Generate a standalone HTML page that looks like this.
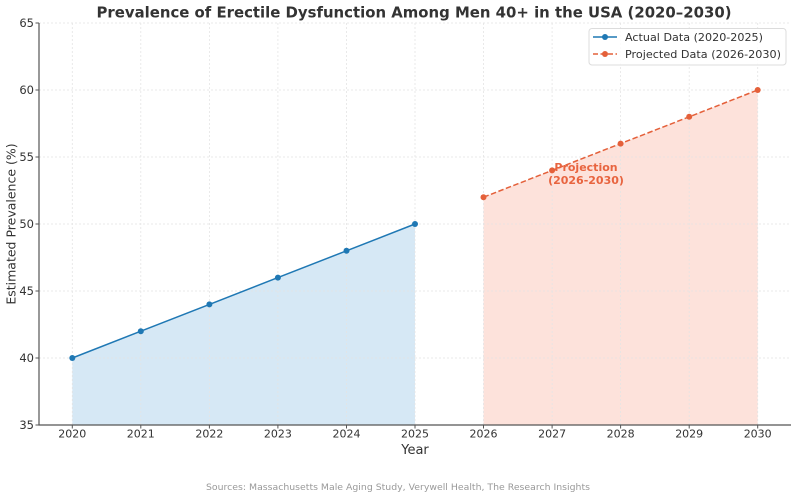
<!DOCTYPE html>
<html>
<head>
<meta charset="utf-8">
<style>
html,body{margin:0;padding:0;background:#fff;}
svg{display:block;}
text{font-family:"DejaVu Sans","Liberation Sans",sans-serif;}
</style>
</head>
<body>
<svg width="797" height="496" viewBox="0 0 797 496" xmlns="http://www.w3.org/2000/svg">
<rect width="797" height="496" fill="#fff"/>
<!-- fills -->
<polygon points="72.3,358 140.8,331.2 209.4,304.4 277.9,277.6 346.5,250.8 415,224 415,425 72.3,425" fill="#d6e8f5"/>
<polygon points="483.5,197.2 552.1,170.4 620.6,143.6 689.2,116.8 757.7,90 757.7,425 483.5,425" fill="#fde2db"/>
<!-- grid -->
<g stroke="#e4e4e4" stroke-width="0.8" stroke-dasharray="2,2" fill="none">
<line x1="72.3" y1="23" x2="72.3" y2="425"/>
<line x1="140.8" y1="23" x2="140.8" y2="425"/>
<line x1="209.4" y1="23" x2="209.4" y2="425"/>
<line x1="277.9" y1="23" x2="277.9" y2="425"/>
<line x1="346.5" y1="23" x2="346.5" y2="425"/>
<line x1="415" y1="23" x2="415" y2="425"/>
<line x1="483.5" y1="23" x2="483.5" y2="425"/>
<line x1="552.1" y1="23" x2="552.1" y2="425"/>
<line x1="620.6" y1="23" x2="620.6" y2="425"/>
<line x1="689.2" y1="23" x2="689.2" y2="425"/>
<line x1="757.7" y1="23" x2="757.7" y2="425"/>
<line x1="39" y1="23" x2="791" y2="23"/>
<line x1="39" y1="90" x2="791" y2="90"/>
<line x1="39" y1="157" x2="791" y2="157"/>
<line x1="39" y1="224" x2="791" y2="224"/>
<line x1="39" y1="291" x2="791" y2="291"/>
<line x1="39" y1="358" x2="791" y2="358"/>
</g>
<!-- spines -->
<line x1="39" y1="23" x2="39" y2="425.5" stroke="#555" stroke-width="1.2"/>
<line x1="38.5" y1="425" x2="791" y2="425" stroke="#555" stroke-width="1.2"/>
<!-- ticks -->
<g stroke="#555" stroke-width="1">
<line x1="35.5" y1="23" x2="39" y2="23"/>
<line x1="35.5" y1="90" x2="39" y2="90"/>
<line x1="35.5" y1="157" x2="39" y2="157"/>
<line x1="35.5" y1="224" x2="39" y2="224"/>
<line x1="35.5" y1="291" x2="39" y2="291"/>
<line x1="35.5" y1="358" x2="39" y2="358"/>
<line x1="35.5" y1="425" x2="39" y2="425"/>
<line x1="72.3" y1="425" x2="72.3" y2="428.5"/>
<line x1="140.8" y1="425" x2="140.8" y2="428.5"/>
<line x1="209.4" y1="425" x2="209.4" y2="428.5"/>
<line x1="277.9" y1="425" x2="277.9" y2="428.5"/>
<line x1="346.5" y1="425" x2="346.5" y2="428.5"/>
<line x1="415" y1="425" x2="415" y2="428.5"/>
<line x1="483.5" y1="425" x2="483.5" y2="428.5"/>
<line x1="552.1" y1="425" x2="552.1" y2="428.5"/>
<line x1="620.6" y1="425" x2="620.6" y2="428.5"/>
<line x1="689.2" y1="425" x2="689.2" y2="428.5"/>
<line x1="757.7" y1="425" x2="757.7" y2="428.5"/>
</g>
<!-- y tick labels -->
<g font-size="11.5" fill="#333" text-anchor="end">
<text x="34" y="27">65</text>
<text x="34" y="94">60</text>
<text x="34" y="161">55</text>
<text x="34" y="228">50</text>
<text x="34" y="295">45</text>
<text x="34" y="362">40</text>
<text x="34" y="429">35</text>
</g>
<!-- x tick labels -->
<g font-size="11" fill="#333" text-anchor="middle">
<text x="72.3" y="437.5">2020</text>
<text x="140.8" y="437.5">2021</text>
<text x="209.4" y="437.5">2022</text>
<text x="277.9" y="437.5">2023</text>
<text x="346.5" y="437.5">2024</text>
<text x="415" y="437.5">2025</text>
<text x="483.5" y="437.5">2026</text>
<text x="552.1" y="437.5">2027</text>
<text x="620.6" y="437.5">2028</text>
<text x="689.2" y="437.5">2029</text>
<text x="757.7" y="437.5">2030</text>
</g>
<!-- axis labels -->
<text x="415" y="454" font-size="13" fill="#333" text-anchor="middle">Year</text>
<text x="0" y="0" font-size="12.5" fill="#333" text-anchor="middle" transform="translate(15.5,224) rotate(-90)">Estimated Prevalence (%)</text>
<!-- title -->
<text x="414" y="17.5" font-size="15.5" font-weight="bold" fill="#333" text-anchor="middle" textLength="635" lengthAdjust="spacingAndGlyphs">Prevalence of Erectile Dysfunction Among Men 40+ in the USA (2020–2030)</text>
<!-- actual line -->
<polyline points="72.3,358 140.8,331.2 209.4,304.4 277.9,277.6 346.5,250.8 415,224" fill="none" stroke="#1f78b4" stroke-width="1.5"/>
<g fill="#1f78b4">
<circle cx="72.3" cy="358" r="3"/>
<circle cx="140.8" cy="331.2" r="3"/>
<circle cx="209.4" cy="304.4" r="3"/>
<circle cx="277.9" cy="277.6" r="3"/>
<circle cx="346.5" cy="250.8" r="3"/>
<circle cx="415" cy="224" r="3"/>
</g>
<!-- projected line -->
<polyline points="483.5,197.2 552.1,170.4 620.6,143.6 689.2,116.8 757.7,90" fill="none" stroke="#e4603a" stroke-width="1.5" stroke-dasharray="5.5,2.5"/>
<g fill="#e4603a">
<circle cx="483.5" cy="197.2" r="3"/>
<circle cx="552.1" cy="170.4" r="3"/>
<circle cx="620.6" cy="143.6" r="3"/>
<circle cx="689.2" cy="116.8" r="3"/>
<circle cx="757.7" cy="90" r="3"/>
</g>
<!-- annotation -->
<g font-size="11" font-weight="bold" fill="#e8643f" text-anchor="middle">
<text x="586" y="171">Projection</text>
<text x="586" y="184">(2026-2030)</text>
</g>
<!-- legend -->
<rect x="589" y="28.5" width="197" height="36.5" rx="3" fill="#fff" fill-opacity="0.85" stroke="#dcdcdc" stroke-width="1"/>
<line x1="593" y1="37" x2="617" y2="37" stroke="#1f78b4" stroke-width="1.5"/>
<circle cx="605" cy="37" r="3" fill="#1f78b4"/>
<line x1="593" y1="54" x2="617" y2="54" stroke="#e4603a" stroke-width="1.5" stroke-dasharray="5,2.5"/>
<circle cx="605" cy="54" r="3" fill="#e4603a"/>
<g font-size="11" fill="#333">
<text x="625" y="41" textLength="138" lengthAdjust="spacingAndGlyphs">Actual Data (2020-2025)</text>
<text x="625" y="58" textLength="156" lengthAdjust="spacingAndGlyphs">Projected Data (2026-2030)</text>
</g>
<!-- sources -->
<text x="398" y="490" font-size="9" fill="#999" text-anchor="middle" textLength="384" lengthAdjust="spacingAndGlyphs">Sources: Massachusetts Male Aging Study, Verywell Health, The Research Insights</text>
</svg>
</body>
</html>
